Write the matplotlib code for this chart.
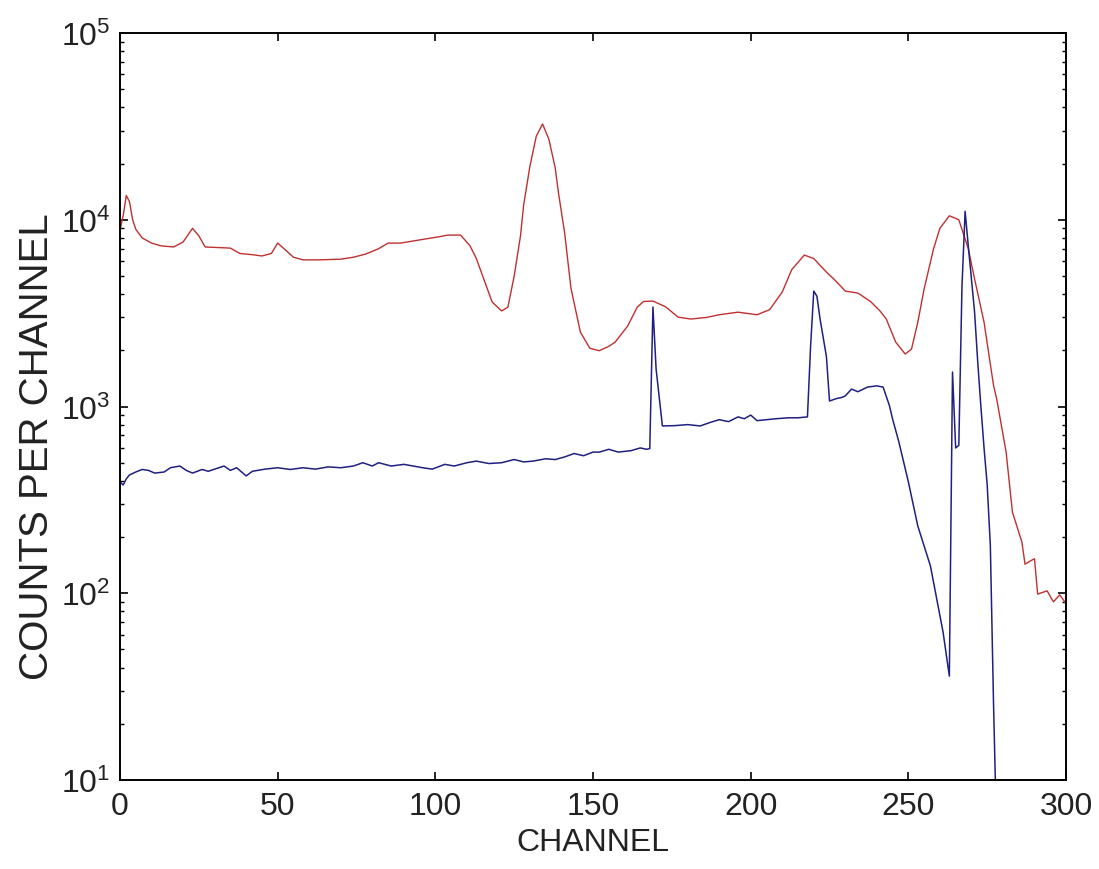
import matplotlib
matplotlib.use("Agg")
import matplotlib.pyplot as plt
from matplotlib.ticker import LogLocator, NullFormatter

# values (channel, counts)
red_ch = [0, 1, 2, 3, 4, 5, 7, 10, 13, 17, 20, 23, 25, 27, 31, 35, 38, 42, 45, 48,
          50, 52, 55, 58, 63, 70, 74, 78, 82, 85, 89, 93, 97, 101, 104, 108, 111, 113,
          115, 118, 121, 123, 125, 127, 128, 130, 132, 134, 136, 138, 139, 141, 143,
          146, 149, 152, 155, 157, 161, 164, 166, 169, 173, 177, 181, 186, 190, 196,
          202, 206, 210, 213, 217, 220, 224, 227, 230, 234, 238, 241, 243, 246, 249,
          251, 253, 255, 258, 260, 263, 266, 269, 271, 274, 277, 278, 281, 283, 286,
          287, 289, 290, 291, 294, 296, 298, 300]
red_counts = [8800, 10500, 13500, 12500, 10000, 8900, 8000, 7500, 7250, 7150, 7600,
              9000, 8200, 7150, 7100, 7050, 6600, 6500, 6400, 6600, 7500, 7000, 6300,
              6100, 6100, 6150, 6300, 6560, 7000, 7500, 7500, 7700, 7900, 8100, 8280,
              8280, 7250, 6200, 5000, 3630, 3250, 3400, 5000, 8200, 12000, 19400, 28000,
              32600, 27000, 19000, 14100, 8500, 4300, 2500, 2050, 1990, 2100, 2210,
              2700, 3400, 3650, 3670, 3420, 3010, 2940, 3000, 3100, 3200, 3100, 3300,
              4100, 5400, 6470, 6200, 5250, 4700, 4150, 4050, 3650, 3250, 2940, 2210,
              1910, 2030, 2830, 4260, 7000, 9000, 10500, 10000, 7000, 4820, 2830, 1300,
              1100, 570, 272, 188, 143, 150, 153, 99, 103, 90, 98, 88]

blue_ch = [0, 1, 2, 3, 5, 7, 9, 11, 14, 16, 19, 21, 23, 26, 28, 30, 33, 35, 37, 40,
           42, 46, 50, 54, 58, 62, 66, 70, 74, 77, 80, 82, 86, 90, 93, 96, 99, 103,
           106, 110, 113, 117, 121, 125, 128, 131, 135, 138, 141, 144, 147, 150, 152,
           155, 158, 162, 165, 167, 168, 169, 170, 172, 176, 180, 184, 187, 190, 193,
           196, 198, 200, 202, 205, 208, 212, 215, 218, 219, 220, 221, 222, 224, 225,
           227, 229, 230, 232, 234, 237, 240, 242, 244, 245, 247, 250, 253, 257, 261,
           263, 264, 265, 266, 267, 268, 269, 270, 271, 272, 273, 274, 275, 276, 277,
           278, 279]
blue_counts = [395, 380, 410, 430, 446, 460, 455, 440, 446, 470, 480, 455, 440, 460,
               450, 462, 480, 455, 470, 425, 450, 462, 470, 460, 470, 462, 475, 470,
               480, 500, 480, 500, 480, 490, 480, 470, 462, 490, 480, 500, 510, 495,
               500, 520, 505, 510, 525, 520, 537, 560, 545, 570, 570, 590, 570, 580,
               600, 590, 595, 3410, 1590, 787, 790, 800, 787, 820, 850, 830, 880, 860,
               900, 840, 850, 860, 870, 870, 880, 2110, 4150, 3900, 2940, 1860, 1070,
               1100, 1120, 1140, 1240, 1200, 1270, 1290, 1270, 1010, 857, 645, 395,
               229, 140, 62, 36, 1530, 600, 620, 4400, 11100, 7250, 4820, 3200, 1730,
               1000, 600, 380, 180, 26, 5, 3]

plt.rcParams['font.family'] = ['Liberation Sans', 'DejaVu Sans']
plt.rcParams['mathtext.fontset'] = 'custom'
plt.rcParams['mathtext.rm'] = 'Liberation Sans'
plt.rcParams['mathtext.it'] = 'Liberation Sans:italic'
plt.rcParams['mathtext.default'] = 'regular'

fig = plt.figure(figsize=(10.99, 8.70), dpi=100)
ax = fig.add_axes([0.1092, 0.1023, 0.8608, 0.8586])

ax.plot(red_ch, red_counts, color='#c03030', lw=1.0)
ax.plot(blue_ch, blue_counts, color='#202080', lw=1.1)

ax.set_yscale('log')
ax.set_xlim(0, 300)
ax.set_ylim(10, 1e5)
ax.set_xticks([0, 50, 100, 150, 200, 250, 300])
ax.yaxis.set_major_locator(LogLocator(base=10, numticks=10))
ax.yaxis.set_minor_locator(LogLocator(base=10, subs=range(2, 10), numticks=10))
ax.yaxis.set_minor_formatter(NullFormatter())

ax.tick_params(which='both', direction='in', top=True, right=True,
               labelsize=23, labelcolor='#222222')
ax.tick_params(which='major', length=6, width=1.2)
ax.tick_params(which='minor', length=3, width=1.0)
ax.tick_params(axis='x', pad=8)
ax.tick_params(axis='y', pad=7)
for s in ax.spines.values():
    s.set_linewidth(1.4)

ax.set_xlabel('CHANNEL', fontsize=23, labelpad=4, color='#222222')
ax.set_ylabel('COUNTS PER CHANNEL', fontsize=29, color='#222222')
ax.yaxis.set_label_coords(-0.068, 0.447)

fig.savefig('out.png', dpi=100)
